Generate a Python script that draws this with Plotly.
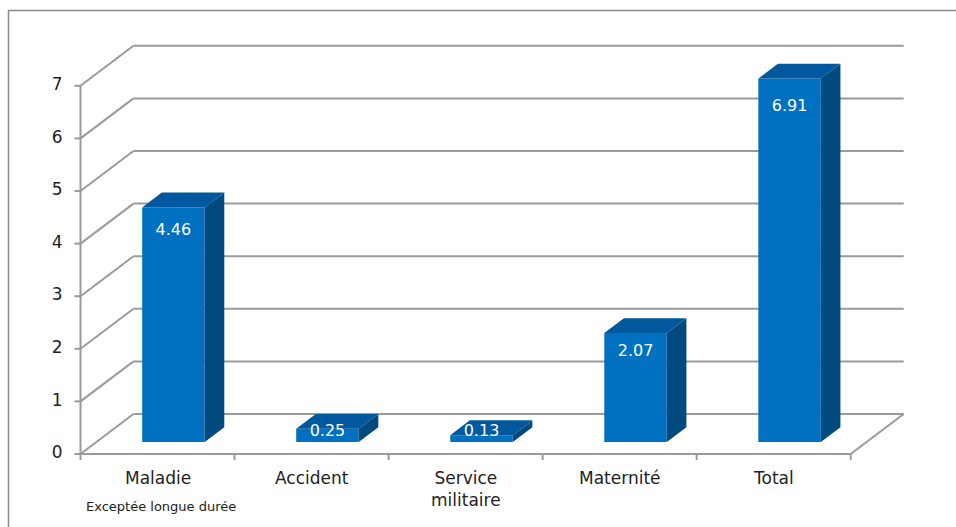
import plotly.graph_objects as go

# ---- data ----
categories = ["Maladie", "Accident", "Service<br>militaire", "Maternité", "Total"]
subtitle_first = "Exceptée longue durée"
values = [4.46, 0.25, 0.13, 2.07, 6.91]
y_ticks = [0, 1, 2, 3, 4, 5, 6, 7]

# ---- geometry (pixel calibration of a pseudo-3D box) ----
W, H = 956, 527
X0_PX, XPU = 80.5, 154.04      # pixel of x=-0.5, pixels per category
Y0_PX, YPU = 454.0, 52.6       # pixel of value 0, pixels per unit
DX, DY = 53 / XPU, 40 / YPU    # full depth of the box in data units
F0, F1 = 0.30, 0.67            # bar depth position (fraction of box depth)
BW = 62.5 / XPU                # bar width

xr = [-0.5 - X0_PX / XPU, -0.5 + (W - X0_PX) / XPU]
yr = [-(H - Y0_PX) / YPU, Y0_PX / YPU]

n = len(categories)
xl, xrt = -0.5, n - 0.5
GRID = "#9a9a9a"
FRONT, TOP, SIDE = "#0070C0", "#00599E", "#004A80"
FONT = "DejaVu Sans"
TXT = "#222222"

fig = go.Figure()
shapes = []

def seg(x0, y0, x1, y1, w=2):
    shapes.append(dict(type="line", xref="x", yref="y", x0=x0, y0=y0, x1=x1, y1=y1,
                       line=dict(color=GRID, width=w), layer="below"))

# back wall gridlines + left wall diagonals
for v in y_ticks:
    seg(xl, v, xl + DX, v + DY)
    seg(xl + DX, v + DY, xrt + DX, v + DY)
# floor front and right edges
seg(xl, 0, xrt, 0)
seg(xrt, 0, xrt + DX, DY)
# front vertical axis
seg(xl, 0, xl, y_ticks[-1])
# y tick marks
for v in y_ticks:
    seg(xl - 6 / XPU, v, xl, v)
# x boundary tick marks
for i in range(n + 1):
    b = xl + i
    seg(b, 0, b, -6 / YPU)

# frame
shapes.append(dict(type="rect", xref="paper", yref="paper",
                   x0=8.5 / W, x1=1.2, y0=-0.2, y1=1 - 10.5 / H,
                   line=dict(color="#8c8c8c", width=1.5), layer="below"))

base = F0 * DY
xs = list(range(n))

# front faces
fig.add_trace(go.Bar(x=xs, y=values, base=[base] * n, width=BW,
                     offset=-BW / 2 + F0 * DX, marker=dict(color=FRONT, line=dict(width=0)),
                     hoverinfo="skip", showlegend=False))

# top and side faces
ddx, ddy = (F1 - F0) * DX, (F1 - F0) * DY
tx, ty, sx, sy = [], [], [], []
for c, v in zip(xs, values):
    L = c - BW / 2 + F0 * DX
    R = L + BW
    B = base
    T = base + v
    tx += [L, R, R + ddx, L + ddx, L, None]
    ty += [T, T, T + ddy, T + ddy, T, None]
    sx += [R, R, R + ddx, R + ddx, R, None]
    sy += [B, T, T + ddy, B + ddy, B, None]
fig.add_trace(go.Scatter(x=tx, y=ty, mode="lines", fill="toself", fillcolor=TOP,
                         line=dict(width=0, color=TOP), hoverinfo="skip", showlegend=False))
fig.add_trace(go.Scatter(x=sx, y=sy, mode="lines", fill="toself", fillcolor=SIDE,
                         line=dict(width=0, color=SIDE), hoverinfo="skip", showlegend=False))

# value labels
lx = [c + F0 * DX for c in xs]
ly = [base + max(v - (0.29 + 0.035 * v), 0.19) for v in values]
fig.add_trace(go.Scatter(x=lx, y=ly, mode="text", text=[f"{v:.2f}" for v in values],
                         textposition="middle center",
                         textfont=dict(family=FONT, size=16, color="white"),
                         hoverinfo="skip", showlegend=False))

# y tick labels
fig.add_trace(go.Scatter(x=[xl - 18 / XPU] * len(y_ticks), y=y_ticks, mode="text",
                         text=[str(v) for v in y_ticks], textposition="middle left",
                         textfont=dict(family=FONT, size=17, color=TXT),
                         hoverinfo="skip", showlegend=False))

annotations = []
for c, name in zip(xs, categories):
    annotations.append(dict(x=c, y=-12 / YPU, xref="x", yref="y", text=name,
                            showarrow=False, xanchor="center", yanchor="top",
                            font=dict(family=FONT, size=17, color=TXT)))
annotations.append(dict(x=0.02, y=-52 / YPU, xref="x", yref="y", text=subtitle_first,
                        showarrow=False, xanchor="center", yanchor="middle",
                        font=dict(family=FONT, size=13, color=TXT)))

fig.update_layout(
    width=W, height=H, autosize=False,
    margin=dict(l=0, r=0, t=0, b=0),
    paper_bgcolor="white", plot_bgcolor="white",
    xaxis=dict(range=xr, visible=False, fixedrange=True),
    yaxis=dict(range=yr, visible=False, fixedrange=True),
    shapes=shapes, annotations=annotations, showlegend=False,
)

fig.write_html("out.html")
